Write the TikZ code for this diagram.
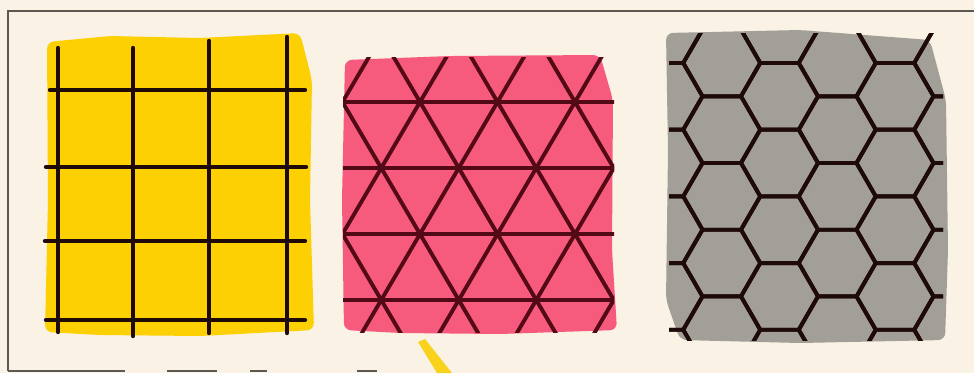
\documentclass[tikz,border=0pt]{standalone}
\usetikzlibrary{calc}
\definecolor{paper}{HTML}{F9F2E5}
\definecolor{frameline}{HTML}{5E5852}
\definecolor{yel}{HTML}{FDD004}
\definecolor{pnk}{HTML}{F65A7C}
\definecolor{gry}{HTML}{A29F98}
\definecolor{ink}{HTML}{1E0A08}
\definecolor{pinkink}{HTML}{540A16}
\definecolor{wedge}{HTML}{F9D21C}
\tikzset{
  frame/.style={draw=frameline, line width=1.5pt},
  blob/.style={rounded corners=7pt},
  gridline/.style={draw=ink, line width=4.4pt, line cap=round},
  triline/.style={draw=pinkink, line width=3.9pt},
  hexline/.style={draw=ink, line width=3.9pt, line join=round},
}
\begin{document}
\begin{tikzpicture}[x=1pt,y=-1pt]
\useasboundingbox (0,0) rectangle (974,373);
\fill[paper] (0,0) rectangle (974,373);
% frame
\draw[frame] (8,371) -- (8,11) -- (974,11);
\draw[frame] (8,371) -- (125,371);
\draw[frame] (167,371) -- (217,371);
\draw[frame] (250,371) -- (267,371);
\draw[frame] (357,371) -- (377,371);

% ---------- yellow square grid ----------
\fill[yel,blob] (47,42) -- (110,36) -- (200,38) -- (300,33) -- (312,80) -- (310,200) -- (314,330) -- (200,336) -- (100,335) -- (45,332) -- (48,200) -- cycle;
\foreach \y/\a/\b in {90/50/305, 167/46/306, 241/45/305, 320/46/305}
  \draw[gridline] (\a,\y) -- (\b,\y);
\foreach \x/\a/\b in {58/48/332, 133/48/336, 209/41/333, 287/37/333}
  \draw[gridline] (\x,\a) -- (\x,\b);

% ---------- pink triangular lattice ----------
\fill[pnk,blob] (345,60) -- (450,56) -- (600,55) -- (613,100) -- (612,250) -- (617,330) -- (500,334) -- (400,333) -- (344,330) -- (342,200) -- cycle;
\begin{scope}
  \clip (343,57) rectangle (614,332);
  \foreach \j in {0,...,3}
    \draw[triline] (340,{102+66*\j}) -- (616,{102+66*\j});
  \foreach \i in {-6,...,6} {
    \draw[triline] ({420+77.5*\i-5*38.75},{102+330}) -- ({420+77.5*\i+5*38.75},{102-330});
    \draw[triline] ({420+77.5*\i-5*38.75},{102-330}) -- ({420+77.5*\i+5*38.75},{102+330});
  }
\end{scope}

% ---------- gray hexagonal lattice ----------
\fill[gry,blob] (666,33) -- (800,30) -- (930,40) -- (946,100) -- (948,250) -- (945,340) -- (800,343) -- (680,340) -- (666,300) -- (668,150) -- cycle;
\begin{scope}
  \clip (669,33) rectangle (943,340);
  \foreach \k in {0,...,7} {
    \pgfmathsetmacro{\cx}{606.25+57.75*\k}
    \pgfmathsetmacro{\dy}{33.35*(1-mod(\k,2))}
    \foreach \m in {-1,...,5} {
      \pgfmathsetmacro{\cy}{96.3+66.7*\m+\dy}
      \draw[hexline] ({\cx-38.5},\cy) -- ({\cx-19.25},{\cy-33.35}) -- ({\cx+19.25},{\cy-33.35}) -- ({\cx+38.5},\cy) -- ({\cx+19.25},{\cy+33.35}) -- ({\cx-19.25},{\cy+33.35}) -- cycle;
    }
  }
\end{scope}

% ---------- small yellow wedge below ----------
\fill[wedge] (418,342) -- (425,339) -- (452,373) -- (437,373) -- cycle;
\end{tikzpicture}
\end{document}
